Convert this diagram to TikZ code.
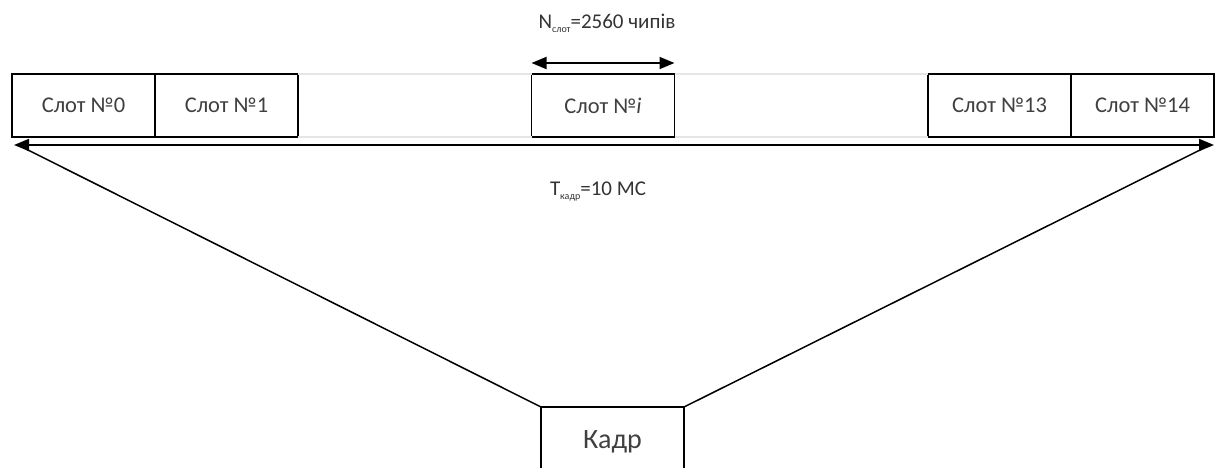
\documentclass[tikz,border=0pt]{standalone}
\usepackage{fontspec}
\setmainfont{Carlito}
\usepackage{tikz}
\usetikzlibrary{arrows.meta,positioning}

% small lowered index in the labels
\newcommand{\idx}[1]{\raisebox{-0.4ex}{\fontsize{10}{10}\selectfont #1}}

\begin{document}
\begin{tikzpicture}[
    x=1pt, y=-1pt,
    slot/.style={draw, line width=1.6pt, minimum width=143pt, minimum height=63pt, outer sep=0pt, inner sep=0pt,
                 font=\fontsize{22.5}{26}\selectfont, text=black!75},
    frame/.style={draw, line width=1.6pt, minimum width=143pt, minimum height=70pt, outer sep=0pt, inner sep=0pt,
                  font=\fontsize{28}{32}\selectfont, text=black!75},
    label/.style={font=\fontsize{21}{24}\selectfont, text=black!80},
    dim/.style={{Triangle[length=15pt,width=12pt]}-{Triangle[length=15pt,width=12pt]}, line width=1.8pt},
    guide/.style={draw=black!10, line width=1.5pt},
    link/.style={line width=1.5pt}
  ]
  \useasboundingbox (0,0) rectangle (1217,468);

  % Slots
  \node[slot] (s0) at (83.5,105.5) {Слот №0};
  \node[slot, right=0pt of s0] (s1) {Слот №1};
  \node[slot] (si) at (603,105.5) {Слот №\textit{i}};
  \node[slot] (s13) at (999.5,105.5) {Слот №13};
  \node[slot, right=0pt of s13] (s14) {Слот №14};

  % faint outline between the slots
  \draw[guide] (s1.north east) -- (si.north west);
  \draw[guide] (s1.south east) -- (si.south west);
  \draw[guide] (si.north east) -- (s13.north west);
  \draw[guide] (si.south east) -- (s13.south west);

  % Slot length
  \draw[dim] (si.north west) ++(0,-11) coordinate (na) -- (si.north east |- na);
  \node[label] (nslot) at (607,23) {N\idx{слот}=2560 чипів};

  % Frame length
  \coordinate (tl) at (14,145);
  \coordinate (tr) at (1214,145);
  \draw[dim] (tl) -- (tr);
  \node[label] (tframe) at (598,192) {T\idx{кадр}=10 МС};

  % Frame
  \node[frame] (kadr) at (612.5,442) {Кадр};
  \draw[link] (tl) ++(12,4) -- (kadr.north west);
  \draw[link] (tr) ++(-12,4) -- (kadr.north east);

\end{tikzpicture}
\end{document}
